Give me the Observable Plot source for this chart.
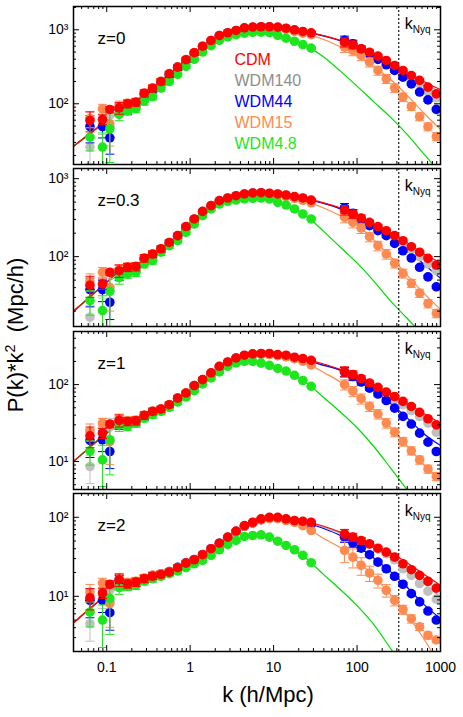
<!DOCTYPE html>
<html><head><meta charset="utf-8">
<script src="https://cdn.jsdelivr.net/npm/d3@7"></script>
<script src="https://cdn.jsdelivr.net/npm/@observablehq/plot@0.6"></script>
<style>
body{margin:0;background:#fff;font-family:"Liberation Sans",Arial,Helvetica,sans-serif;}
#chart{position:relative;width:463px;height:717px;overflow:hidden;background:#fff;}
#chart svg{position:absolute;left:0;}
.title{position:absolute;white-space:nowrap;font-size:22px;line-height:22px;color:#000;}
.title sup{font-size:0.65em;vertical-align:0;position:relative;top:-0.55em;}
</style></head>
<body><div id="chart"></div>
<script>
// ---------- data ----------
const kPoints = [0.063, 0.089, 0.109,
  0.141, 0.178, 0.224, 0.282, 0.355, 0.447, 0.562, 0.708, 0.891, 1.12, 1.41, 1.78, 2.24, 2.82, 3.55, 4.47, 5.62, 7.08, 8.91, 11.2, 14.1, 17.8, 22.4, 28.2,
  70.8, 89.1, 112, 141, 178, 224, 282, 355, 447, 562, 708, 891];
const kLine = [0.04, 0.063, 0.1, 0.158, 0.251, 0.398, 0.631, 1, 1.58, 2.51, 3.98, 6.31, 10, 15.8, 25.1, 39.8, 63.1, 100, 158, 251, 398, 631, 1000];

const seriesNames = ["CDM", "WDM140", "WDM44", "WDM15", "WDM4.8"];
const pointColors = ["#ff0000", "#c0c0c0", "#0000ff", "#ff8a4f", "#1ee61e"];
const lineColors = ["#ff0000", "#b0b0b0", "#0000ff", "#ff8a4f", "#00dd00"];
const legendColors = ["#ff0000", "#8e8e8e", "#0000ff", "#ff8a4f", "#1ee61e"];
const panelLabels = ["z=0", "z=0.3", "z=1", "z=2"];
const yDomains = [[15.1, 2065], [12.7, 1350], [4.33, 490], [2.0, 200]];
const yMajorTicks = [[100, 1000], [100, 1000], [10, 100], [10, 100]];
const yTickValues = [10, 100, 1000];
const yTickLabels = ["10\u00b9", "10\u00b2", "10\u00b3"];
const xTickValues = [0.1, 1, 10, 100, 1000];
const xTickLabels = ["0.1", "1", "10", "100", "1000"];
const xDomain = [0.04, 1000];
const kNyq = 316;

// z = 0
const CDM_z0 = [59.5, 61.4, 83.8, 88, 100, 105, 139, 162, 200, 254, 313, 394, 490, 600, 717, 837, 912, 980, 1060, 1090, 1100, 1100, 1085, 1050, 1000, 950, 910, 680, 627, 553, 498, 440, 385, 329, 282, 241, 207, 168, 136];
const WDM140_z0 = [26, 55, 70, 86, 97, 103, 136, 158, 196, 250, 308, 388, 484, 594, 710, 830, 905, 972, 1050, 1080, 1090, 1090, 1075, 1040, 990, 940, 900, 675, 620, 545, 490, 430, 372, 315, 268, 226, 188, 146, 120];
const WDM44_z0 = [49.3, 49.3, 34.7, 84, 82, 100, 133, 155, 192, 246, 305, 385, 480, 590, 705, 825, 900, 965, 1045, 1075, 1085, 1085, 1065, 1030, 975, 925, 890, 720, 647, 553, 474, 397, 337, 282, 229, 186, 144, 113, 84];
const WDM15_z0 = [63, 85.5, 53.7, 92, 102, 106, 140, 165, 202, 256, 315, 395, 492, 600, 715, 835, 905, 970, 1045, 1075, 1085, 1080, 1060, 1010, 950, 900, 860, 582, 525, 450, 365, 282, 218, 164, 123, 92, 67, 49, 36];
const WDM48_z0 = [35.4, 26, 45.9, 72, 80, 86, 108, 125, 163, 200, 250, 320, 400, 500, 610, 720, 800, 860, 900, 925, 930, 915, 840, 770, 700, 630, 565, null, null, null, null, null, null, null, null, null, null, null, null];
// z = 0.3
const CDM_z03 = [43, 44.7, 63, 66, 73, 74.5, 95.5, 108, 126, 152, 186, 243, 304, 380, 451, 522, 565, 605, 637, 656, 661, 650, 637, 617, 589, 566, 530, 397, 352, 313, 275, 243, 215, 186, 160, 134, 114, 95, 78];
const WDM140_z03 = [16.7, 42, 40, 65, 72, 73.5, 94, 106, 124, 150, 183, 240, 300, 375, 445, 515, 558, 598, 630, 650, 655, 645, 630, 610, 582, 558, 522, 395, 350, 310, 270, 238, 208, 178, 150, 124, 100, 80.5, 66];
const WDM44_z03 = [37.8, 37.8, 26, 60, 70, 72, 92, 105, 123, 149, 182, 238, 298, 374, 444, 514, 556, 596, 628, 648, 652, 640, 625, 603, 575, 550, 515, 421, 359, 290, 250, 215, 186, 148, 119, 96, 73, 55, 41];
const WDM15_z03 = [48, 63, 40, 67, 74, 75, 96, 108, 126, 152, 186, 242, 302, 378, 448, 518, 560, 598, 628, 645, 648, 635, 615, 590, 558, 525, 490, 319, 275, 233, 180, 138, 108, 82, 61, 45.5, 34, 25, 18.7];
const WDM48_z03 = [27.3, 20.3, 35.9, 54, 60, 63, 80.5, 89, 114, 138, 160, 205, 262, 336, 409, 473, 512, 532, 550, 560, 565, 550, 497, 459, 409, 352, 304, null, null, null, null, null, null, null, null, null, null, null, null];
// z = 1
const CDM_z1 = [21.6, 23.4, 30.6, 34.2, 33.2, 33.9, 39.8, 44.9, 48, 54.8, 66.8, 77.6, 97, 116, 142, 173, 197, 222, 241, 251, 254, 254, 246, 241, 227, 218, 207, 149, 135, 120, 105, 92, 80, 70, 60.5, 52, 43.5, 36, 30];
const WDM140_z1 = [8.6, 28, 28, 33.5, 32.5, 33.5, 39.2, 44.3, 47.4, 54, 66, 76.8, 96, 115, 140.5, 171, 195, 220, 238, 248, 251, 251, 243, 237, 223, 213, 202, 148, 133, 118, 102, 88, 76, 65, 55, 46, 38.5, 31.6, 24];
const WDM44_z1 = [18.8, 19.2, 13.5, 32, 31.5, 33, 38.5, 44, 47, 54, 66, 77, 96, 115, 140, 170, 194, 219, 237, 247, 250, 249, 240, 234, 219, 209, 197, 146, 128, 108, 90, 75.5, 62, 49.5, 38.6, 30.7, 23.4, 17.9, 13.5];
const WDM15_z1 = [24.6, 31.6, 18.2, 35, 34, 34.5, 40, 45, 48.5, 55, 67, 78, 97, 116, 141, 171, 195, 219, 237, 246, 248, 246, 238, 230, 217, 201, 180, 100, 82, 65.6, 52, 41.4, 31.6, 24.1, 18.2, 13.8, 10.5, 8.0, 6.4];
const WDM48_z1 = [13.8, 10.5, 19.2, 30, 28.6, 31.6, 36.7, 40.6, 44.9, 50.6, 59.3, 68.9, 83.5, 102, 122, 146, 173, 191, 201, 200, 190, 178, 162, 150, 132, 113, 95, null, null, null, null, null, null, null, null, null, null, null, null];
// z = 2
const CDM_z2 = [9.6, 11, 14.2, 16.2, 14.4, 15.1, 16.7, 18, 18.9, 20.2, 23, 26.3, 29, 33.6, 40, 47, 56, 67, 78.5, 86.5, 95.5, 100, 100, 95.5, 91, 89, 86.5, 61.6, 56, 50.8, 46.1, 40.6, 36.2, 31.3, 25.8, 21.7, 18.4, 15.5, 12.7];
const WDM140_z2 = [4.5, 10, 12, 16, 14.6, 15.3, 16.9, 18.2, 19, 20.2, 23, 26.2, 28.8, 33.2, 39.5, 46.5, 55.5, 66, 77.5, 85.5, 94.5, 99, 99, 94.5, 90, 88, 85, 61, 55, 50, 45, 39.5, 34.5, 29, 22.3, 18.4, 14.5, 11.6, 9.2];
const WDM44_z2 = [8.9, 8.9, 6.2, 15.5, 14, 15, 16.5, 18.3, 19.2, 20.5, 23.2, 26.5, 29.2, 33.8, 40, 47, 55.5, 66, 77, 85, 93.5, 98, 97.5, 93, 88, 85, 81, 56, 47.5, 40.6, 33.6, 27.1, 22.3, 17.9, 14.2, 10.8, 8.5, 6.5, 5.0];
const WDM15_z2 = [11.3, 14.7, 8.1, 16.5, 15, 15.5, 17, 18.5, 19.3, 20.5, 23, 26.3, 29, 33.5, 39.8, 46.5, 55.5, 66, 77, 84.5, 92.5, 96, 96, 91, 86.5, 78.5, 68, 38, 31.3, 24.6, 19.7, 15.9, 11.9, 8.9, 6.8, 5.2, 4.1, 3.2, 2.8];
const WDM48_z2 = [6.3, 5.0, 9.4, 12.9, 13.4, 13.8, 15.6, 16.7, 17.9, 19.3, 20.9, 23, 25.8, 28.4, 32.9, 38.8, 45.3, 51, 57.2, 58.8, 60, 56, 49.8, 44, 38.8, 32.9, 26.6, null, null, null, null, null, null, null, null, null, null, null, null];

// model curves (read at kLine)
const L_CDM_z0 = [26.7, 39.7, 59, 88, 121, 180, 282, 440, 655, 873, 1020, 1095, 1092, 1025, 930, 835, 720, 600, 480, 365, 270, 200, 155];
const L_WDM140_z0 = [26.7, 39.7, 59, 88, 121, 180, 282, 440, 655, 873, 1020, 1093, 1090, 1020, 925, 828, 712, 590, 470, 355, 260, 190, 145];
const L_WDM44_z0 = [26.7, 39.7, 59, 88, 121, 180, 282, 440, 655, 873, 1018, 1090, 1085, 1015, 920, 825, 710, 585, 465, 350, 255, 180, 125];
const L_WDM15_z0 = [26.7, 39.7, 59, 88, 121, 180, 282, 440, 655, 870, 1012, 1080, 1075, 985, 875, 740, 590, 455, 320, 215, 130, 75, 45];
const L_WDM48_z0 = [26.7, 39.7, 59, 80, 96, 143, 224, 358, 552, 760, 880, 927, 877, 735, 597, 430, 276, 173, 107, 66, 38.6, 21, 11.5];

const L_CDM_z03 = [19.9, 30.5, 47, 72, 84, 117, 168, 272, 414, 543, 620, 660, 645, 603, 548, 490, 420, 335, 262, 205, 150, 108, 84];
const L_WDM140_z03 = [19.9, 30.5, 47, 72, 84, 117, 168, 272, 414, 543, 618, 657, 642, 600, 543, 485, 415, 330, 256, 198, 145, 102, 75];
const L_WDM44_z03 = [19.9, 30.5, 47, 72, 84, 117, 168, 272, 414, 543, 616, 654, 638, 597, 540, 482, 410, 320, 245, 180, 122, 80, 53];
const L_WDM15_z03 = [19.9, 30.5, 47, 72, 84, 117, 168, 272, 414, 541, 612, 645, 625, 575, 508, 420, 335, 255, 165, 100, 58, 34, 21];
const L_WDM48_z03 = [19.9, 30.5, 47, 60, 71, 101, 149, 232, 371, 492, 541, 562, 523, 434, 328, 211, 132, 83, 49, 27, 16.2, 9.5, 5.6];

const L_CDM_z1 = [10, 15.4, 23.5, 36, 36.7, 46.4, 60.5, 86.8, 128, 185, 231, 252, 250, 234, 212, 185, 158, 130, 102, 78, 58, 42, 31.6];
const L_WDM140_z1 = [10, 15.4, 23.5, 36, 36.7, 46.4, 60.5, 86.8, 128, 185, 231, 251, 249, 232, 209, 181, 153, 124, 96, 72, 53, 38, 27];
const L_WDM44_z1 = [10, 15.4, 23.5, 36, 36.7, 46.4, 60.5, 86.8, 128, 185, 231, 251, 246, 228, 204, 178, 154, 118, 84, 57, 37, 23, 16.2];
const L_WDM15_z1 = [10, 15.4, 23.5, 36, 36.7, 46.4, 60.5, 86.8, 128, 185, 230, 250, 242, 224, 190, 144, 108, 73, 47, 28, 16, 9.2, 5.8];
const L_WDM48_z1 = [10, 15.4, 23.5, 30, 34, 42.7, 55, 76, 112, 159, 196, 195, 170, 141, 104, 68, 44, 27.5, 15.8, 8.3, 4.3, 2.2, 1.1];

const L_CDM_z2 = [4.6, 7.0, 10.5, 16, 15.9, 18.4, 21.6, 27.6, 36.7, 51.3, 72.5, 91, 100, 93.2, 87.7, 77, 65, 55, 45, 35.5, 26.5, 19, 13.8];
const L_WDM140_z2 = [4.6, 7.0, 10.5, 16, 15.9, 18.4, 21.6, 27.6, 36.7, 51.3, 72, 90.5, 99, 92.5, 86.5, 75, 63, 52, 41, 31, 22, 14.5, 9.8];
const L_WDM44_z2 = [4.6, 7.0, 10.5, 16, 15.9, 18.4, 21.6, 27.6, 36.7, 51.3, 72, 90, 98, 91, 84, 72, 59, 44, 30.5, 20.5, 13, 7.9, 5.2];
const L_WDM15_z2 = [4.6, 7.0, 10.5, 16, 15.9, 18.4, 21.6, 27.6, 36.7, 51, 72, 90, 96, 89, 73, 54, 41, 28, 18, 10.5, 5.8, 2.9, 1.3];
const L_WDM48_z2 = [4.6, 7.0, 10.5, 13.5, 14.7, 17.3, 20.1, 24.4, 30.6, 41.9, 54, 59.4, 52.8, 41.3, 29.6, 18.8, 12.2, 7.6, 4.4, 2.2, 1.1, 0.56, 0.28];

// relative errors (sigma/P)
const errLow_CDM = [0.3, 0.15, 0.1];
const errLow_WDM140 = [0.4, 0.3, 0.3];
const errLow_WDM44 = [0.4, 0.3, 0.4];
const errLow_WDM15 = [0.25, 0.15, 0.5];
const errLow_WDM48 = [0.35, 0.55, 0.65];
const errMain = [0.18, 0.12, 0.12, 0.11, 0.1, 0.09, 0.08, 0.07, 0.06, 0.05, 0.05, 0.04, 0.04, 0.04, 0.04, 0.03, 0.03, 0.03, 0.03, 0.03, 0.03, 0.03, 0.03, 0.03];
const errHigh = [0.14, 0.12, 0.09, 0.07, 0.06, 0.05, 0.05, 0.05, 0.05, 0.05, 0.05, 0.05];
const errHigh_WDM15 = [0.15, 0.15, 0.15, 0.14, 0.14, 0.14, 0.13, 0.13, 0.12, 0.12, 0.12, 0.12];
const errHigh_WDM15_z2 = [0.3, 0.27, 0.25, 0.22, 0.2, 0.18, 0.15, 0.13, 0.12, 0.1, 0.1, 0.08];

// ---------- assembly ----------
const pointSets = [
  [CDM_z0, WDM140_z0, WDM44_z0, WDM15_z0, WDM48_z0],
  [CDM_z03, WDM140_z03, WDM44_z03, WDM15_z03, WDM48_z03],
  [CDM_z1, WDM140_z1, WDM44_z1, WDM15_z1, WDM48_z1],
  [CDM_z2, WDM140_z2, WDM44_z2, WDM15_z2, WDM48_z2]
];
const lineSets = [
  [L_CDM_z0, L_WDM140_z0, L_WDM44_z0, L_WDM15_z0, L_WDM48_z0],
  [L_CDM_z03, L_WDM140_z03, L_WDM44_z03, L_WDM15_z03, L_WDM48_z03],
  [L_CDM_z1, L_WDM140_z1, L_WDM44_z1, L_WDM15_z1, L_WDM48_z1],
  [L_CDM_z2, L_WDM140_z2, L_WDM44_z2, L_WDM15_z2, L_WDM48_z2]
];
const errLowSets = [errLow_CDM, errLow_WDM140, errLow_WDM44, errLow_WDM15, errLow_WDM48];
const drawOrder = [1, 2, 3, 4, 0];

function relErr(panel, s, j) {
  if (j < 3) return errLowSets[s][j];
  if (j < 27) return errMain[j - 3];
  if (s === 3) return (panel === 3 ? errHigh_WDM15_z2 : errHigh_WDM15)[j - 27];
  return errHigh[j - 27];
}

const capSymbol = {
  draw(context, size) {
    const r = Math.sqrt(size / Math.PI);
    context.moveTo(-r, 0);
    context.lineTo(r, 0);
  }
};

const W = 463, ML = 73, MR = 23, INNER_H = 158, MT = 6;
const INNER_W = W - ML - MR;
const frameTops = [6, 168, 331, 493];
const chart = document.getElementById("chart");

function yFmt(d) { const i = yTickValues.indexOf(d); return i >= 0 ? yTickLabels[i] : ""; }
function xFmt(d) { const i = xTickValues.indexOf(d); return i >= 0 ? xTickLabels[i] : ""; }

function makePanel(p) {
  const last = p === 3;
  const MB = last ? 66 : 6;
  const marks = [];
  for (const s of drawOrder) {
    const recs = kLine.map((k, j) => ({k, v: lineSets[p][s][j]}));
    marks.push(Plot.line(recs, {x: "k", y: "v", stroke: lineColors[s], strokeWidth: 1.2, curve: "monotone-x", clip: true}));
  }
  marks.push(Plot.ruleX([kNyq], {x: d => d, stroke: "#000", strokeWidth: 1.1, strokeDasharray: "2,2"}));
  for (const s of drawOrder) {
    const recs = [];
    pointSets[p][s].forEach((v, j) => {
      if (v == null) return;
      const e = relErr(p, s, j);
      recs.push({k: kPoints[j], v, lo: v * (1 - e), hi: v * (1 + e)});
    });
    const c = pointColors[s];
    marks.push(Plot.ruleX(recs, {x: "k", y1: "lo", y2: "hi", stroke: c, strokeWidth: 1, clip: true}));
    marks.push(Plot.dot(recs, {x: "k", y: "lo", symbol: capSymbol, r: 4.5, stroke: c, fill: "none", strokeWidth: 1, clip: true}));
    marks.push(Plot.dot(recs, {x: "k", y: "hi", symbol: capSymbol, r: 4.5, stroke: c, fill: "none", strokeWidth: 1, clip: true}));
    marks.push(Plot.dot(recs, {x: "k", y: "v", r: 4.8, fill: c, stroke: "none", clip: true}));
  }
  const yAll = d3.scaleLog().domain(yDomains[p]).ticks();
  const yMaj = yMajorTicks[p];
  const yMin = yAll.filter(v => !yMaj.includes(v));
  const xAll = d3.scaleLog().domain(xDomain).ticks();
  const xMin = xAll.filter(v => !xTickValues.includes(v));
  const tk = {stroke: "#000", strokeWidth: 1};
  marks.push(Plot.tickY(yMaj, {y: d => d, insetRight: INNER_W - 6, ...tk}));
  marks.push(Plot.tickY(yMaj, {y: d => d, insetLeft: INNER_W - 6, ...tk}));
  marks.push(Plot.tickY(yMin, {y: d => d, insetRight: INNER_W - 3, ...tk}));
  marks.push(Plot.tickY(yMin, {y: d => d, insetLeft: INNER_W - 3, ...tk}));
  marks.push(Plot.tickX(xTickValues, {x: d => d, insetTop: INNER_H - 6, ...tk}));
  marks.push(Plot.tickX(xTickValues, {x: d => d, insetBottom: INNER_H - 6, ...tk}));
  marks.push(Plot.tickX(xMin, {x: d => d, insetTop: INNER_H - 3, ...tk}));
  marks.push(Plot.tickX(xMin, {x: d => d, insetBottom: INNER_H - 3, ...tk}));
  marks.push(Plot.frame({stroke: "#000", strokeWidth: 1.5}));
  marks.push(Plot.text([panelLabels[p]], {frameAnchor: "top-left", dx: 24, dy: 32, fontSize: 17, fill: "#000", textAnchor: "start", lineAnchor: "middle"}));
  marks.push(Plot.text([kNyq], {x: d => d, frameAnchor: "top", dx: 6, dy: 17, text: () => "k", fontSize: 16, fill: "#000", textAnchor: "start", lineAnchor: "middle"}));
  marks.push(Plot.text([kNyq], {x: d => d, frameAnchor: "top", dx: 14, dy: 23, text: () => "Nyq", fontSize: 10, fill: "#000", textAnchor: "start", lineAnchor: "middle"}));
  if (p === 0) {
    seriesNames.forEach((name, s) => {
      marks.push(Plot.text([name], {frameAnchor: "top-left", dx: 161, dy: 53 + 21 * s, fontSize: 16, fill: legendColors[s], textAnchor: "start", lineAnchor: "middle"}));
    });
  }
  const svg = Plot.plot({
    width: W, height: INNER_H + MT + MB,
    marginLeft: ML, marginRight: MR, marginTop: MT, marginBottom: MB,
    style: {fontFamily: "'Liberation Sans', Arial, Helvetica, sans-serif", fontSize: "14px", background: "transparent", overflow: "visible", color: "#000"},
    x: {type: "log", domain: xDomain, axis: last ? "bottom" : null, ticks: xTickValues, tickFormat: xFmt, tickSize: 0, tickPadding: 11, label: null},
    y: {type: "log", domain: yDomains[p], ticks: yMaj, tickFormat: yFmt, tickSize: 0, tickPadding: 5, label: null},
    marks
  });
  svg.style.top = (frameTops[p] - MT) + "px";
  chart.appendChild(svg);
}

[0, 1, 2, 3].forEach(makePanel);

const xt = document.createElement("div");
xt.className = "title";
xt.textContent = "k (h/Mpc)";
xt.style.left = "268px"; xt.style.top = "684px"; xt.style.transform = "translateX(-50%)";
chart.appendChild(xt);
const yt = document.createElement("div");
yt.className = "title";
yt.innerHTML = "P(k)*k<sup>2</sup>&nbsp; (Mpc/h)";
yt.style.left = "17px"; yt.style.top = "335px"; yt.style.transform = "translate(-50%,-50%) rotate(-90deg)";
chart.appendChild(yt);
</script>
</body></html>
